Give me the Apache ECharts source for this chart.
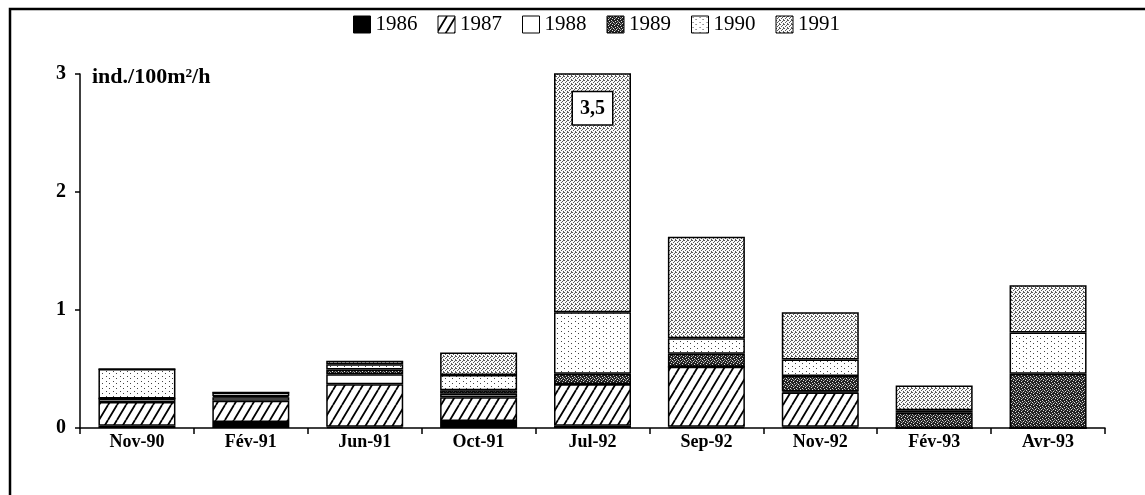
<!DOCTYPE html>
<html>
<head>
<meta charset="utf-8">
<script src="https://cdn.jsdelivr.net/npm/echarts@6/dist/echarts.min.js"></script>
<style>
  html, body { margin: 0; padding: 0; background: #fff; }
  #chart { width: 1145px; height: 495px; }
</style>
</head>
<body>
<div id="chart"></div>
<script>
// Sampling dates and cohort (year-class) densities, ind./100m²/h
const categories = ['Nov-90', 'Fév-91', 'Jun-91', 'Oct-91', 'Jul-92', 'Sep-92', 'Nov-92', 'Fév-93', 'Avr-93'];
const years = ['1986', '1987', '1988', '1989', '1990', '1991'];
const y1986 = [0.02, 0.05, 0.01, 0.06, 0.02, 0.01, 0.01, 0, 0];
const y1987 = [0.20, 0.18, 0.36, 0.20, 0.35, 0.51, 0.29, 0, 0];
const y1988 = [0.03, 0.03, 0.085, 0.03, 0, 0, 0.01, 0, 0];
const y1989 = [0, 0.01, 0.04, 0.03, 0.09, 0.11, 0.13, 0.13, 0.46];
const y1990 = [0.25, 0.03, 0.045, 0.13, 0.52, 0.13, 0.14, 0.02, 0.35];
const y1991 = [0, 0, 0.03, 0.19, 2.52, 0.86, 0.40, 0.21, 0.40];
const yTicks = [0, 1, 2, 3];
const unitLabel = 'ind./100m²/h';

const yearValues = [y1986, y1987, y1988, y1989, y1990, y1991];
const yMax = yTicks[yTicks.length - 1];
const totals = categories.map((_, i) => yearValues.reduce((s, arr) => s + arr[i], 0));

// Monochrome fill textures
function tile(w, h, draw) {
  const c = document.createElement('canvas');
  c.width = w; c.height = h;
  const g = c.getContext('2d');
  draw(g, w, h);
  return { image: c, repeat: 'repeat' };
}
function dots(g, color, pts) {
  g.fillStyle = color;
  pts.forEach(p => g.fillRect(p[0], p[1], 1, 1));
}
const fillSolid = '#000';
const fillHatch = tile(9, 15, (g, w, h) => {
  g.fillStyle = '#fff'; g.fillRect(0, 0, w, h);
  g.strokeStyle = '#000'; g.lineWidth = 1.8;
  g.beginPath();
  [-9, 0, 9].forEach(dx => { g.moveTo(dx, h); g.lineTo(dx + w, 0); });
  g.stroke();
});
const fillWhite = '#fff';
const fillDark = tile(6, 6, (g, w, h) => {
  g.fillStyle = '#222'; g.fillRect(0, 0, w, h);
  dots(g, '#e0e0e0', [[0, 0], [3, 1], [1, 3], [4, 4], [2, 5], [5, 2]]);
  dots(g, '#888', [[2, 2], [5, 5], [4, 0], [1, 1]]);
});
const fillSparse = tile(7, 5, (g, w, h) => {
  g.fillStyle = '#fff'; g.fillRect(0, 0, w, h);
  dots(g, '#444', [[1, 1], [4, 3]]);
});
const fillStipple = tile(4, 4, (g, w, h) => {
  g.fillStyle = '#fafafa'; g.fillRect(0, 0, w, h);
  dots(g, '#5a5a5a', [[0, 0], [2, 1], [1, 2], [3, 3], [3, 0]]);
});
const fills = [fillSolid, fillHatch, fillWhite, fillDark, fillSparse, fillStipple];

const serif = '"Liberation Serif", "Times New Roman", serif';
const lastIdx = years.length - 1;

const series = years.map((yr, k) => ({
  name: yr,
  type: 'bar',
  stack: 'total',
  barWidth: 77,
  clip: true,
  itemStyle: { color: fills[k], borderColor: '#000', borderWidth: 1.5 },
  emphasis: { disabled: true },
  data: yearValues[k].map((v, i) => {
    if (k === lastIdx && totals[i] > yMax) {
      // bar runs past the axis top: print its real total inside
      return {
        value: v,
        label: {
          show: true,
          position: 'insideTop',
          distance: 19,
          formatter: () => String(Math.round(totals[i] * 10) / 10).replace('.', ','),
          fontFamily: serif, fontWeight: 'bold', fontSize: 20, color: '#000',
          backgroundColor: '#fff', borderColor: '#000', borderWidth: 1.5,
          padding: [7, 7, 5, 7]
        }
      };
    }
    return v;
  })
}));

const chart = echarts.init(document.getElementById('chart'), null, { renderer: 'canvas' });
chart.setOption({
  animation: false,
  backgroundColor: '#fff',
  legend: {
    data: years,
    left: 348, top: 9,
    itemWidth: 17, itemHeight: 17, itemGap: 20,
    icon: 'rect',
    selectedMode: false,
    textStyle: { fontFamily: serif, fontSize: 21, color: '#000' },
    itemStyle: { borderColor: '#000', borderWidth: 1 }
  },
  grid: { left: 80, right: 40, top: 74, bottom: 67, containLabel: false },
  xAxis: {
    type: 'category',
    data: categories,
    axisLine: { lineStyle: { color: '#000', width: 1.5 } },
    axisTick: { show: true, length: 6, lineStyle: { color: '#000', width: 1.5 } },
    axisLabel: { fontFamily: serif, fontWeight: 'bold', fontSize: 18, color: '#000', margin: 5 }
  },
  yAxis: {
    type: 'value',
    min: yTicks[0], max: yMax, interval: 1,
    name: unitLabel,
    nameLocation: 'end',
    nameGap: -3,
    nameTextStyle: {
      fontFamily: serif, fontWeight: 'bold', fontSize: 22, color: '#000',
      align: 'left', verticalAlign: 'middle', padding: [0, 0, 0, 12]
    },
    axisLine: { show: true, lineStyle: { color: '#000', width: 1.5 } },
    axisTick: { show: true, length: 5, lineStyle: { color: '#000', width: 1.5 } },
    axisLabel: { fontFamily: serif, fontWeight: 'bold', fontSize: 20, color: '#000', margin: 14 },
    splitLine: { show: false }
  },
  graphic: [{
    type: 'polyline',
    shape: { points: [[10, 495], [10, 9], [1145, 9]] },
    style: { stroke: '#000', lineWidth: 2.5, fill: null },
    silent: true
  }],
  series: series
});
</script>
</body>
</html>
